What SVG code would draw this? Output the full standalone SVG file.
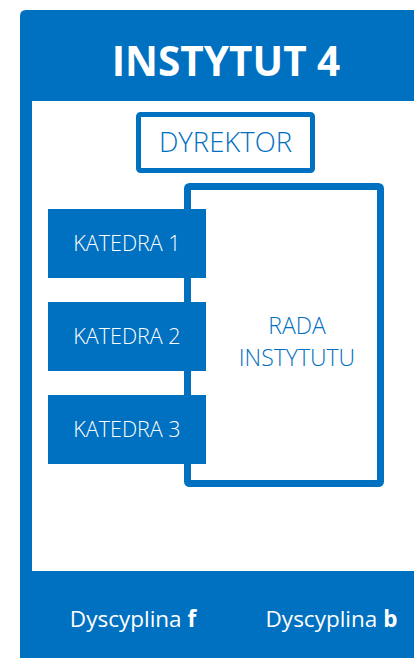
<svg xmlns="http://www.w3.org/2000/svg" width="414" height="658" viewBox="0 0 414 658">
<style>
.blue{fill:#0070C0}
.box{fill:#fff;stroke:#0070C0}
.t{font-family:"Open Sans","Noto Sans","Liberation Sans",sans-serif;text-anchor:middle}
.w{fill:#fff}
.b{fill:#0070C0}
.k{font-size:21.5px;font-weight:300}
</style>
<rect width="414" height="658" fill="#fff"/>
<g id="instytut">
<path class="blue" d="M20,16 Q20,10 26,10 L414,10 L414,658 L20,658 Z"/>
<rect x="32" y="101" width="382" height="470" fill="#fff"/>
<text class="t w" x="226" y="76" font-size="40.5" font-weight="700">INSTYTUT 4</text>
</g>
<g id="dyrektor">
<rect class="box" x="138.5" y="114.5" width="174" height="56" rx="2" stroke-width="5"/>
<text class="t b" x="225.5" y="152" font-size="27.5" font-weight="300">DYREKTOR</text>
</g>
<g id="rada">
<rect class="box" x="187.5" y="186.5" width="193" height="297" rx="2" stroke-width="7"/>
<text class="t b" x="297" y="334" font-size="23" font-weight="300">RADA</text>
<text class="t b" x="297" y="366" font-size="23" font-weight="300">INSTYTUTU</text>
</g>
<g id="katedra1">
<rect class="blue" x="48" y="209" width="158" height="69"/>
<text class="t w k" x="127" y="251">KATEDRA 1</text>
</g>
<g id="katedra2">
<rect class="blue" x="48" y="302" width="158" height="69"/>
<text class="t w k" x="127" y="344">KATEDRA 2</text>
</g>
<g id="katedra3">
<rect class="blue" x="48" y="395" width="158" height="69"/>
<text class="t w k" x="127" y="437">KATEDRA 3</text>
</g>
<g id="connectors"></g>
<g id="dyscypliny">
<text class="t w" x="133" y="627" font-size="22.5">Dyscyplina <tspan font-weight="700">f</tspan></text>
<text class="t w" x="331.5" y="627" font-size="22.5">Dyscyplina <tspan font-weight="700">b</tspan></text>
</g>
</svg>
